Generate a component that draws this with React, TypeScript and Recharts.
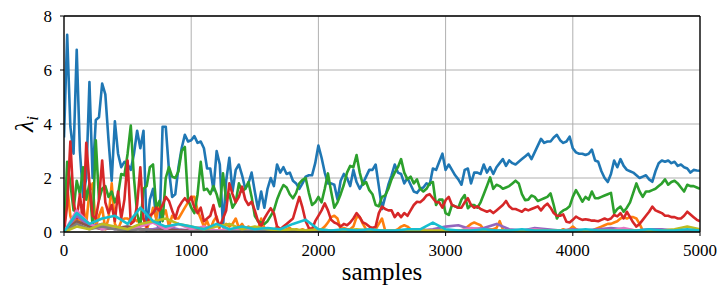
import React from 'react';
import { LineChart, Line, XAxis, YAxis, CartesianGrid, ReferenceLine, Label } from 'recharts';

// sample positions (every 25 samples) for the main series
const samples: number[] = Array.from({ length: 201 }, (_, i) => i * 25);
const xTicks = [0, 1000, 2000, 3000, 4000, 5000];
const yTicks = [0, 2, 4, 6, 8];

const blue = [
  3.5, 7.3, 3.9, 2.9, 6.75, 3.0, 1.3, 2.0, 5.55, 2.0, 4.15, 4.25, 5.5, 5.1, 3.4, 1.9, 4.1, 2.9, 2.4, 2.6,
  2.5, 2.3, 2.9, 3.75, 3.1, 3.75, 0.05, 1.2, 1.6, 0.5, 0.0, 3.9, 3.9, 2.3, 1.3, 1.4, 2.4, 3.1, 3.6, 3.35, 3.4,
  3.55, 3.3, 3.35, 3.1, 2.35, 2.35, 1.55, 3.0, 2.5, 0.2, 1.9, 2.75, 1.5, 2.3, 2.5, 2.1, 1.6, 1.8, 2.2, 1.5,
  0.85, 1.5, 0.9, 1.6, 2.0, 1.7, 2.5, 2.2, 2.4, 2.15, 2.2, 1.9, 1.8, 1.6, 1.8, 2.05, 2.1, 2.1, 2.55, 3.2,
  2.75, 2.2, 1.8, 1.8, 1.75, 1.2, 1.9, 2.15, 2.0, 1.7, 2.3, 1.85, 1.6, 1.8, 2.05, 2.3, 2.3, 2.5, 1.7, 0.85,
  1.3, 1.75, 2.1, 2.5, 2.2, 2.15, 1.8, 2.0, 1.75, 1.5, 1.45, 1.6, 1.65, 1.8, 1.75, 2.35, 2.3, 2.6, 2.9, 2.3,
  2.5, 2.3, 2.1, 1.95, 1.75, 2.3, 2.35, 1.8, 2.2, 2.2, 2.15, 2.5, 2.2, 2.4, 2.15, 2.4, 2.55, 2.7, 2.45, 2.65,
  2.55, 2.5, 2.6, 2.7, 2.8, 2.9, 2.7, 2.95, 3.2, 3.45, 3.3, 3.35, 3.35, 3.5, 3.6, 3.4, 3.3, 3.35, 3.53, 3.1,
  2.95, 2.9, 2.9, 2.85, 2.9, 3.05, 2.65, 2.6, 2.25, 2.0, 1.85, 2.15, 2.65, 2.4, 2.7, 2.45, 2.3, 2.25, 2.2, 2.1,
  2.0, 2.05, 2.1, 1.95, 1.86, 2.25, 2.55, 2.65, 2.6, 2.65, 2.55, 2.6, 2.45, 2.5, 2.4, 2.35, 2.2, 2.3, 2.28, 2.27,
];

const orange = [
  0, 1.7, 0.6, 0.2, 0.7, 0.2, 1.0, 0.3, 1.5, 1.8, 0.2, 0.6, 0.9, 0.1, 0.5, 1.8, 0.3, 0.1, 0.4, 0.5,
  0.5, 0.4, 0.5, 0.4, 0.5, 0.5, 0.1, 0.4, 0.9, 0.5, 1.05, 0.6, 0.8, 0.2, 0.6, 0.5, 0.5, 0.7, 0.9, 1.1, 1.3,
  1.3, 0.8, 0.5, 0.2, 0.4, 0.1, 0.4, 0.57, 0.05, 0.05, 0.3, 0.2, 0.3, 0.5, 0.15, 0.3, 0.1, 0.2, 0.1, 0.15,
  0.1, 0.5, 0.15, 0.05, 0.1, 0.05, 0.2, 0.1, 0.05, 0.1, 0.15, 0.05, 0.1, 0.05, 0.1, 0.05, 0.1, 0.05, 0.1, 0.05,
  0.1, 0.2, 0.35, 0.55, 0.6, 0.5, 0.1, 0.15, 0.1, 0.1, 0.2, 0.55, 0.55, 0.3, 0.1, 0.05, 0.05, 0.1, 0.3, 0.5,
  0.05, 0.05, 0.05, 0.05, 0.1, 0.2, 0.25, 0.2, 0.1, 0.05, 0.05, 0.05, 0.1, 0.05, 0.05, 0.05, 0.05, 0.05, 0.05, 0.05,
  0.05, 0.05, 0.05, 0.05, 0.05, 0.1, 0.2, 0.3, 0.35, 0.3, 0.25, 0.1, 0.1, 0.1, 0.1, 0.15, 0.4, 0.1, 0.05, 0.05,
  0.05, 0.05, 0.05, 0.05, 0.05, 0.05, 0.05, 0.05, 0.05, 0.05, 0.05, 0.05, 0.05, 0.05, 0.05, 0.05, 0.1, 0.05, 0.1, 0.2,
  0.1, 0.05, 0.05, 0.05, 0.05, 0.05, 0.1, 0.15, 0.2, 0.25, 0.3, 0.3, 0.35, 0.4, 0.5, 0.55, 0.5, 0.55, 0.55, 0.5,
  0.3, 0.05, 0.02, 0.02, 0.03, 0.02, 0.02, 0.03, 0.02, 0.02, 0.03, 0.02, 0.02, 0.03, 0.02, 0.02, 0.03, 0.02, 0.02, 0.02,
];

const green = [
  0, 2.6, 1.8, 0.8, 1.9, 1.4, 2.4, 1.2, 1.8, 0.2, 3.4, 1.2, 1.6, 1.7, 1.3, 1.5, 1.1, 1.4, 2.15, 2.1,
  2.9, 3.94, 2.0, 0.67, 0.2, 1.6, 1.7, 2.4, 2.5, 0.9, 1.15, 0.4, 2.0, 2.4, 2.05, 2.0, 2.25, 3.0, 3.15, 1.2, 0.9,
  0.7, 1.4, 2.6, 1.55, 1.6, 1.4, 1.7, 1.4, 0.95, 2.17, 1.2, 1.4, 0.9, 1.1, 1.8, 1.5, 1.6, 1.85, 1.3, 0.6,
  0.4, 0.35, 0.3, 0.4, 0.6, 0.8, 1.2, 1.5, 1.74, 1.65, 1.4, 1.25, 1.45, 1.8, 1.93, 2.0, 1.45, 1.0, 1.1, 1.3,
  1.1, 1.6, 2.17, 1.5, 0.9, 1.1, 1.4, 1.75, 2.2, 2.45, 2.4, 2.85, 2.2, 1.75, 1.85, 1.55, 1.4, 1.0, 0.95, 1.3,
  1.35, 1.6, 1.95, 2.2, 2.4, 2.7, 2.2, 1.95, 2.05, 1.8, 1.95, 1.6, 1.5, 1.6, 1.8, 1.85, 1.0, 1.2, 1.2, 0.7,
  0.63, 1.0, 0.95, 0.9, 1.2, 1.37, 0.88, 1.0, 1.0, 0.9, 1.1, 1.4, 1.7, 2.02, 1.6, 1.75, 1.7, 1.6, 1.65, 1.7,
  1.8, 1.9, 1.8, 1.4, 1.18, 1.2, 1.35, 1.3, 1.15, 1.2, 1.25, 1.3, 1.43, 1.0, 0.5, 0.7, 0.8, 0.85, 0.95, 1.3,
  1.55, 1.35, 1.12, 1.3, 1.2, 1.5, 1.25, 1.25, 1.3, 1.35, 1.4, 1.45, 0.7, 0.85, 0.94, 0.75, 0.9, 1.1, 1.45, 1.8,
  1.5, 1.3, 1.5, 1.5, 1.55, 1.6, 1.7, 1.8, 1.95, 1.75, 1.85, 1.9, 1.8, 1.65, 1.5, 1.75, 1.7, 1.7, 1.65, 1.6,
];

const red = [
  0, 1.0, 3.35, 1.1, 0.5, 1.4, 0.3, 3.3, 1.8, 0.6, 0.5, 1.2, 2.65, 1.1, 0.7, 1.0, 0.4, 1.5, 0.5, 1.2,
  2.65, 0.3, 0.4, 1.0, 2.4, 0.5, 0.2, 0.6, 0.7, 0.9, 0.8, 1.0, 1.3, 1.15, 0.8, 0.5, 0.9, 1.1, 1.25, 1.1, 1.3,
  0.9, 0.7, 0.9, 0.4, 0.5, 0.6, 1.0, 0.5, 0.2, 0.5, 0.8, 1.8, 1.4, 1.1, 1.3, 1.68, 1.2, 1.0, 1.12, 0.8,
  0.4, 0.2, 0.5, 0.7, 0.88, 0.7, 0.2, 0.1, 0.2, 0.3, 0.4, 0.5, 0.9, 1.3, 0.9, 0.4, 0.15, 0.1, 0.4, 0.6,
  0.8, 1.06, 0.8, 0.45, 0.35, 0.3, 0.2, 0.3, 0.25, 0.35, 0.5, 0.7, 0.55, 0.35, 0.3, 0.2, 0.15, 0.2, 0.7, 0.94,
  0.85, 0.8, 0.8, 0.55, 0.7, 0.55, 0.7, 0.6, 0.8, 1.0, 1.12, 1.1, 1.2, 1.35, 1.4, 1.25, 1.1, 1.1, 0.9, 1.18,
  1.3, 1.0, 0.95, 0.9, 0.9, 1.1, 1.25, 1.0, 0.9, 0.95, 0.85, 0.8, 0.75, 0.8, 0.7, 0.8, 0.9, 1.0, 1.15, 0.95,
  0.85, 0.85, 0.8, 0.75, 0.85, 0.8, 0.85, 0.9, 0.95, 0.8, 0.95, 1.05, 0.9, 0.7, 0.6, 0.6, 0.65, 0.38, 0.35, 0.45,
  0.57, 0.5, 0.45, 0.47, 0.45, 0.42, 0.42, 0.4, 0.45, 0.5, 0.45, 0.5, 0.63, 0.58, 0.7, 0.5, 0.75, 0.55, 0.35, 0.2,
  0.3, 0.45, 0.6, 0.75, 0.94, 0.8, 0.75, 0.7, 0.6, 0.6, 0.55, 0.55, 0.5, 0.5, 0.6, 0.75, 0.65, 0.55, 0.45, 0.4,
];

// minor eigenvalues, one value every 100 samples
const purple = [
  0, 0.6, 0.2, 0.3, 0.1, 0.2, 0.1, 0.1, 0.2, 0.1, 0.05, 0.1, 0.05, 0.05, 0.05, 0.05, 0.05, 0.05, 0.05, 0.05,
  0.05, 0.05, 0.05, 0.05, 0.05, 0.05, 0.05, 0.05, 0.05, 0.1, 0.2, 0.25, 0.1, 0.15, 0.3, 0.1, 0.05, 0.15, 0.1, 0.05,
  0.1, 0.05, 0.1, 0.15, 0.1, 0.05, 0.1, 0.1, 0.05, 0.05, 0.05,
];
const brown = [
  0, 0.4, 0.2, 0.1, 0.15, 0.2, 0.1, 0.05, 0.1, 0.05, 0.05, 0.05, 0.03, 0.03, 0.03, 0.03, 0.03, 0.03, 0.03, 0.03,
  0.03, 0.03, 0.03, 0.03, 0.03, 0.03, 0.03, 0.03, 0.03, 0.03, 0.03, 0.03, 0.03, 0.03, 0.03, 0.03, 0.03, 0.03, 0.03, 0.03,
  0.03, 0.03, 0.03, 0.03, 0.03, 0.03, 0.03, 0.03, 0.03, 0.03, 0.03,
];
const pink = [
  0, 0.8, 0.3, 0.1, 0.2, 0.1, 0.2, 0.35, 0.1, 0.3, 0.1, 0.2, 0.05, 0.1, 0.05, 0.05, 0.1, 0.05, 0.05, 0.05,
  0.05, 0.05, 0.05, 0.05, 0.05, 0.05, 0.05, 0.05, 0.05, 0.05, 0.05, 0.05, 0.15, 0.1, 0.05, 0.05, 0.05, 0.1, 0.05, 0.05,
  0.05, 0.05, 0.05, 0.05, 0.15, 0.05, 0.05, 0.05, 0.05, 0.05, 0.05,
];
const gray = [
  0, 0.3, 0.1, 0.2, 0.1, 0.05, 0.1, 0.05, 0.03, 0.03, 0.03, 0.03, 0.03, 0.03, 0.03, 0.03, 0.03, 0.03, 0.03, 0.03,
  0.03, 0.03, 0.03, 0.03, 0.03, 0.03, 0.03, 0.03, 0.03, 0.03, 0.03, 0.03, 0.03, 0.03, 0.03, 0.03, 0.03, 0.03, 0.03, 0.03,
  0.03, 0.03, 0.03, 0.03, 0.03, 0.03, 0.03, 0.03, 0.03, 0.03, 0.03,
];
const olive = [
  0, 0.2, 0.1, 0.3, 0.2, 0.1, 0.3, 0.4, 0.5, 0.3, 0.2, 0.1, 0.2, 0.3, 0.1, 0.2, 0.1, 0.05, 0.1, 0.05,
  0.1, 0.05, 0.05, 0.1, 0.05, 0.05, 0.05, 0.05, 0.05, 0.05, 0.05, 0.05, 0.05, 0.05, 0.05, 0.05, 0.05, 0.05, 0.05, 0.05,
  0.05, 0.05, 0.05, 0.05, 0.05, 0.05, 0.05, 0.05, 0.1, 0.2, 0.1,
];
const cyan = [
  0, 0.7, 0.3, 0.5, 0.6, 0.3, 0.9, 0.4, 0.2, 0.3, 0.2, 0.1, 0.3, 0.1, 0.2, 0.1, 0.15, 0.1, 0.3, 0.45,
  0.1, 0.05, 0.1, 0.05, 0.1, 0.05, 0.05, 0.1, 0.1, 0.35, 0.1, 0.05, 0.05, 0.1, 0.05, 0.05, 0.1, 0.05, 0.05, 0.05,
  0.05, 0.1, 0.05, 0.05, 0.05, 0.05, 0.1, 0.05, 0.05, 0.1, 0.05,
];

const major: [string, number[], string][] = [
  ['blue', blue, '#1f77b4'],
  ['orange', orange, '#ff7f0e'],
  ['green', green, '#2ca02c'],
  ['red', red, '#d62728'],
];
const minor: [string, number[], string][] = [
  ['purple', purple, '#9467bd'],
  ['brown', brown, '#8c564b'],
  ['pink', pink, '#e377c2'],
  ['gray', gray, '#7f7f7f'],
  ['olive', olive, '#bcbd22'],
  ['cyan', cyan, '#17becf'],
];

const rows = samples.map((x, i) => {
  const r: Record<string, number | undefined> = { x };
  major.forEach(([k, arr]) => { r[k] = arr[i]; });
  minor.forEach(([k, arr]) => { r[k] = i % 4 === 0 ? arr[i / 4] : undefined; });
  return r;
});

const font = "'Liberation Serif', 'DejaVu Serif', serif";

const XTick = (props: any) => {
  const { x, y, payload } = props;
  return (
    <text x={x} y={y} dy={12} textAnchor="middle" style={{ fontFamily: font, fontSize: 17, fill: '#000' }}>
      {payload.value}
    </text>
  );
};

const YTick = (props: any) => {
  const { x, y, payload } = props;
  return (
    <text x={x} y={y} dy={6} textAnchor="end" style={{ fontFamily: font, fontSize: 17, fill: '#000' }}>
      {payload.value}
    </text>
  );
};

export default function App() {
  return (
    <div style={{ position: 'absolute', left: 0, top: 0, width: 718, height: 290, background: '#fff' }}>
      <LineChart width={718} height={290} data={rows} margin={{ top: 16, right: 18, left: 0, bottom: 0 }}>
        <CartesianGrid stroke="#b0b0b0" strokeWidth={1} />
        <XAxis
          dataKey="x"
          type="number"
          domain={[0, 5000]}
          ticks={xTicks}
          interval={0}
          allowDataOverflow
          height={58}
          tickSize={4}
          tickMargin={8}
          axisLine={{ stroke: '#000', strokeWidth: 1.3 }}
          tickLine={{ stroke: '#000', strokeWidth: 1 }}
          tick={<XTick />}
        >
          <Label value="samples" position="insideBottom" offset={10} style={{ fontSize: 25, fontFamily: font, fill: '#000' }} />
        </XAxis>
        <YAxis
          type="number"
          domain={[0, 8]}
          ticks={yTicks}
          interval={0}
          allowDataOverflow
          width={64}
          tickSize={4}
          tickMargin={8}
          axisLine={{ stroke: '#000', strokeWidth: 1.3 }}
          tickLine={{ stroke: '#000', strokeWidth: 1 }}
          tick={<YTick />}
        >
          <Label
            content={() => (
              <text x={33} y={124} transform="rotate(-90 33 124)" textAnchor="middle" style={{ fontFamily: font, fontStyle: 'italic', fontSize: 26, fill: '#000' }}>
                λ<tspan style={{ fontSize: 17 }} dy={5}>i</tspan>
              </text>
            )}
          />
        </YAxis>
        {major.map(([k, , c]) => (
          <Line key={k} dataKey={k} stroke={c} strokeWidth={2.6} dot={false} isAnimationActive={false} type="linear" strokeLinejoin="round" />
        ))}
        {minor.map(([k, , c]) => (
          <Line key={k} dataKey={k} stroke={c} strokeWidth={2.6} dot={false} isAnimationActive={false} type="linear" connectNulls strokeLinejoin="round" />
        ))}
        <ReferenceLine y={8} stroke="#000" strokeWidth={1.3} />
        <ReferenceLine x={5000} stroke="#000" strokeWidth={1.3} />
      </LineChart>
    </div>
  );
}
